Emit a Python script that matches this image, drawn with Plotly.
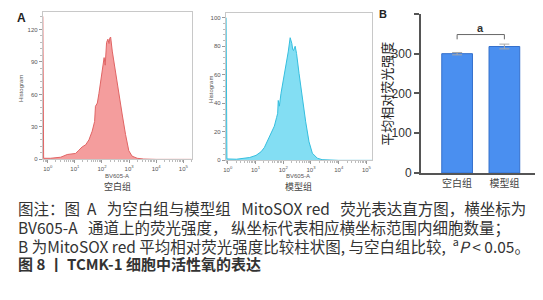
import plotly.graph_objects as go

# ---------------- data ----------------
# Panel A, histogram of the blank group (x: log10 of BV605-A, y: cell count)
blank_log = [-0.18, -0.15, 0.10, 0.35, 0.48, 0.72, 0.85, 1.03, 1.15, 1.27, 1.40, 1.52, 1.64,
             1.73, 1.76, 1.83, 1.89, 1.97, 2.05, 2.08, 2.12, 2.17, 2.22, 2.26, 2.29, 2.32,
             2.38, 2.50, 2.62, 2.75, 2.87, 2.99, 3.11, 3.30, 3.54, 4.00, 5.30]
blank_count = [132, 1, 1, 1.5, 2, 4.5, 5, 5.5, 8.5, 11.5, 13.5, 18, 26,
               35, 49, 52, 61, 75, 88, 94, 87, 108, 111, 107, 112, 113,
               100, 80, 59, 41, 23, 8, 3, 1, 0.3, 0, 0]

# Panel A, histogram of the model group
model_log = [-0.06, -0.03, 0.31, 0.55, 0.79, 1.02, 1.20, 1.32, 1.44, 1.56, 1.68, 1.76,
             1.80, 1.82, 1.86, 1.92, 2.00, 2.06, 2.12, 2.18, 2.25, 2.31, 2.34, 2.37,
             2.43, 2.48, 2.57, 2.69, 2.81, 2.93, 3.05, 3.23, 3.40, 4.00, 5.20]
model_count = [100, 1, 0.8, 1.5, 2, 3.5, 6, 9, 14, 18.5, 24, 30,
               33, 42, 38, 47, 56, 63, 67, 76, 86, 82, 78, 77,
               80, 75, 61, 43, 27, 13, 5, 1.5, 0.5, 0, 0]

decade_ticks = [0, 1, 2, 3, 4, 5]
blank_yticks = [0, 30, 60, 90, 120]
model_yticks = [0, 20, 40, 60, 80, 100]

# Panel B, bar chart
groups = ["空白组", "模型组"]
mean_intensity = [300, 318]
sem_intensity = [3, 6]
bar_yticks = [0, 100, 200, 300, 400]
sig_label = "a"

NB = "\u00a0"
caption_lines = [
    "图注：图" + NB * 2 + "A" + NB * 3 + "为空白组与模型组" + NB * 3 + "MitoSOX red" + NB * 3
    + "荧光表达直方图，横坐标为",
    "BV605-A" + NB * 3 + "通道上的荧光强度，" + NB + "纵坐标代表相应横坐标范围内细胞数量；",
    "B 为MitoSOX red 平均相对荧光强度比较柱状图," + NB + "与空白组比较," + NB * 2
    + "<sup>a</sup><i>P</i> < 0.05。",
    "<b>图 8 丨 TCMK-1 细胞中活性氧的表达</b>",
]

# ---------------- figure ----------------
W, H = 543, 300
def px(x):
    return x / W
def py(y):
    return 1 - y / H

CJK = "Noto Sans CJK SC"
ARIAL = "Liberation Sans, Arial"

fig = go.Figure()

fig.add_trace(go.Scatter(
    x=[10 ** v for v in blank_log], y=blank_count, mode="lines", fill="tozeroy",
    line=dict(color="#e06464", width=1), fillcolor="rgba(243,146,146,0.9)",
    xaxis="x", yaxis="y", hoverinfo="skip", showlegend=False))

fig.add_trace(go.Scatter(
    x=[10 ** v for v in model_log], y=model_count, mode="lines", fill="tozeroy",
    line=dict(color="#35bede", width=1), fillcolor="rgba(118,218,242,0.9)",
    xaxis="x2", yaxis="y2", hoverinfo="skip", showlegend=False))

fig.add_trace(go.Bar(
    x=groups, y=mean_intensity, width=0.65,
    marker=dict(color="#4a8ff0", line=dict(color="#3470cc", width=1)),
    error_y=dict(type="data", array=sem_intensity, color="#a8a8a8", thickness=1, width=5),
    xaxis="x3", yaxis="y3", hoverinfo="skip", showlegend=False))

tick_text = ["10<sup>%d</sup>" % d for d in decade_ticks]
hist_x_common = dict(
    type="log", tickvals=[10 ** d for d in decade_ticks], ticktext=tick_text,
    ticks="outside", ticklen=3, tickcolor="#999", tickwidth=1,
    tickfont=dict(size=6, color="#555", family=ARIAL),
    showline=True, linecolor="#c8c8c8", linewidth=1, mirror=True,
    showgrid=False, zeroline=False,
    minor=dict(ticks="outside", ticklen=2, tickcolor="#bbb", dtick="D1"),
)
hist_y_common = dict(
    ticks="outside", ticklen=3, tickcolor="#999", tickwidth=1,
    tickfont=dict(size=6, color="#555", family=ARIAL),
    showline=True, linecolor="#c8c8c8", linewidth=1, mirror=True,
    showgrid=False, zeroline=False,
)

fig.update_layout(
    width=W, height=H, margin=dict(l=0, r=0, t=0, b=0),
    paper_bgcolor="white", plot_bgcolor="white",
    xaxis=dict(domain=[px(32), px(182)], range=[-0.18, 5.32], anchor="y", **hist_x_common),
    yaxis=dict(domain=[py(155), py(4)], range=[0, 136.2], anchor="x",
               tickvals=blank_yticks, minor=dict(ticks="outside", ticklen=2, tickcolor="#bbb", dtick=6),
               **hist_y_common),
    xaxis2=dict(domain=[px(216), px(363)], range=[-0.07, 5.2], anchor="y2", **hist_x_common),
    yaxis2=dict(domain=[py(156), py(5)], range=[0, 103.4], anchor="x2",
                tickvals=model_yticks, minor=dict(ticks="outside", ticklen=2, tickcolor="#bbb", dtick=4),
                **hist_y_common),
    xaxis3=dict(domain=[px(412), px(537)], range=[-0.77, 1.86], anchor="y3",
                type="category", categoryorder="array", categoryarray=groups,
                showline=True, linecolor="#555", linewidth=1.5, ticks="",
                tickfont=dict(size=10, color="#444", family=CJK),
                showgrid=False, zeroline=False),
    yaxis3=dict(domain=[py(169), py(6)], range=[0, 400], anchor="x3",
                tickvals=bar_yticks, ticks="outside", ticklen=5, tickwidth=1.5, tickcolor="#555",
                showline=True, linecolor="#555", linewidth=1.5,
                tickfont=dict(size=12, color="#333", family=ARIAL),
                showgrid=False, zeroline=False),
)

# significance bracket computed from the bar data
top = max(m + s for m, s in zip(mean_intensity, sem_intensity))
br_y = top + 24
br_low = br_y - 12
bracket = dict(xref="x3", yref="y3", type="line", line=dict(color="#666", width=1))
fig.add_shape(x0=0, x1=1, y0=br_y, y1=br_y, **bracket)
fig.add_shape(x0=0, x1=0, y0=br_low, y1=br_y, **bracket)
fig.add_shape(x0=1, x1=1, y0=br_low, y1=br_y, **bracket)
fig.add_annotation(x=0.5, y=br_y, xref="x3", yref="y3", text="<b>%s</b>" % sig_label,
                   showarrow=False, yanchor="bottom", yshift=-1,
                   font=dict(size=11, color="#333", family=ARIAL))

ann = []
# panel letters
ann.append(dict(x=px(4), y=py(10), text="<b>A</b>", font=dict(size=12, color="#222", family=ARIAL),
                xanchor="left", yanchor="middle"))
ann.append(dict(x=px(368), y=py(6), text="<b>B</b>", font=dict(size=11, color="#222", family=ARIAL),
                xanchor="left", yanchor="middle"))
# histogram axis titles
for cx, cy in [(10, 82), (201, 83)]:
    ann.append(dict(x=px(cx), y=py(cy), text="Histogram", textangle=-90,
                    font=dict(size=6, color="#555", family=ARIAL), xanchor="center", yanchor="middle"))
for cx in [107, 289]:
    ann.append(dict(x=px(cx), y=py(172), text="BV605-A",
                    font=dict(size=6, color="#555", family=ARIAL), xanchor="center", yanchor="middle"))
for cx, name in zip([107, 289], groups):
    ann.append(dict(x=px(cx), y=py(183), text=name,
                    font=dict(size=9, color="#444", family=CJK), xanchor="center", yanchor="middle"))
# bar y title
ann.append(dict(x=px(378), y=py(88), text="平均相对荧光强度", textangle=-90,
                font=dict(size=13, color="#222", family=CJK), xanchor="center", yanchor="middle"))
# caption
caption_sizes = [15.5, 15.5, 15.5, 15]
for i, (line, fs) in enumerate(zip(caption_lines, caption_sizes)):
    ann.append(dict(x=px(5), y=py(205 + 19 * i), text=line,
                    font=dict(size=fs, color="#333", family=CJK), xanchor="left", yanchor="middle"))

for a in ann:
    fig.add_annotation(xref="paper", yref="paper", showarrow=False, **a)

fig.write_html("out.html")
